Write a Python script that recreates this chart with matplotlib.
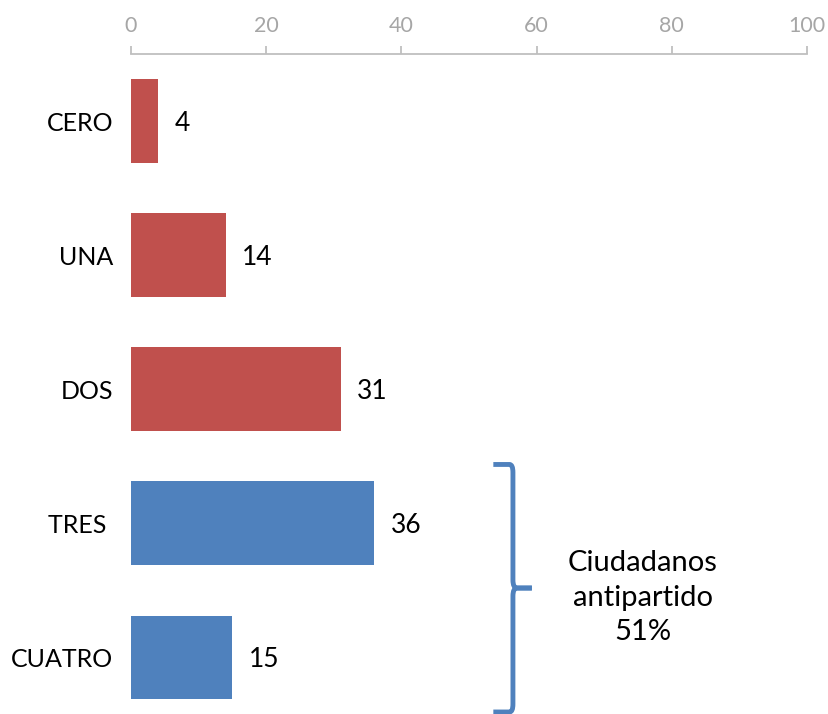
import matplotlib
matplotlib.use("Agg")
import matplotlib.pyplot as plt
from matplotlib.path import Path
from matplotlib.patches import PathPatch

categories = ["CERO", "UNA", "DOS", "TRES ", "CUATRO"]
values = [4, 14, 31, 36, 15]
bar_colors = ["#C0504D", "#C0504D", "#C0504D", "#4F81BD", "#4F81BD"]
xticks = [0, 20, 40, 60, 80, 100]
annotation = "Ciudadanos\nantipartido\n51%"

plt.rcParams['font.family'] = ['Lato', 'DejaVu Sans']

W, H = 829, 714
fig = plt.figure(figsize=(W / 100, H / 100), dpi=100)
ax = fig.add_axes([131 / W, 0, 676 / W, 660 / H])

y = list(range(len(categories)))
ax.barh(y, values, height=0.62, color=bar_colors)
ax.set_xlim(0, 100)
ax.set_ylim(4.425, -0.5)

for yi, v in zip(y, values):
    ax.annotate(str(v), (v, yi), xytext=(12, -1.5), textcoords="offset points",
                ha="left", va="center", fontsize=19, color="black")

ax.xaxis.tick_top()
ax.set_xticks(xticks)
ax.set_xticklabels([str(t) for t in xticks])
ax.tick_params(axis="x", colors="#BFBFBF", labelcolor="#A6A6A6", labelsize=15.5,
               length=6, width=1.3, pad=7, direction="out")
ax.set_yticks(y)
ax.set_yticklabels(categories, fontsize=18)
ax.tick_params(axis="y", length=0, pad=13)

for s in ["left", "right", "bottom"]:
    ax.spines[s].set_visible(False)
ax.spines["top"].set_color("#BFBFBF")
ax.spines["top"].set_linewidth(1.3)

# bracket (data coords)
xb = 56.5
xl = 53.6
xr = 59.3
yt, yb = 2.563, 4.41
ym = 3.485
r = 0.06
verts = [
    (xl, yt), (xb - 0.5, yt), (xb, yt), (xb, yt + r),
    (xb, ym - r), (xb, ym), (xb + 0.6, ym), (xr, ym),
]
codes = [Path.MOVETO, Path.LINETO, Path.CURVE3, Path.CURVE3,
         Path.LINETO, Path.CURVE3, Path.CURVE3, Path.LINETO]
p1 = Path(verts, codes)
verts2 = [
    (xr, ym), (xb + 0.6, ym), (xb, ym), (xb, ym + r),
    (xb, yb - r), (xb, yb), (xb - 0.5, yb), (xl, yb),
]
codes2 = [Path.MOVETO, Path.LINETO, Path.CURVE3, Path.CURVE3,
          Path.LINETO, Path.CURVE3, Path.CURVE3, Path.LINETO]
p2 = Path(verts2, codes2)
for p in (p1, p2):
    ax.add_patch(PathPatch(p, fill=False, edgecolor="#4F81BD", lw=3.5,
                           clip_on=False, capstyle="butt", joinstyle="round"))

ax.text(75.7, 3.556, annotation, ha="center", va="center", fontsize=21,
        linespacing=1.42, color="black")

fig.savefig("out.png", dpi=100)
